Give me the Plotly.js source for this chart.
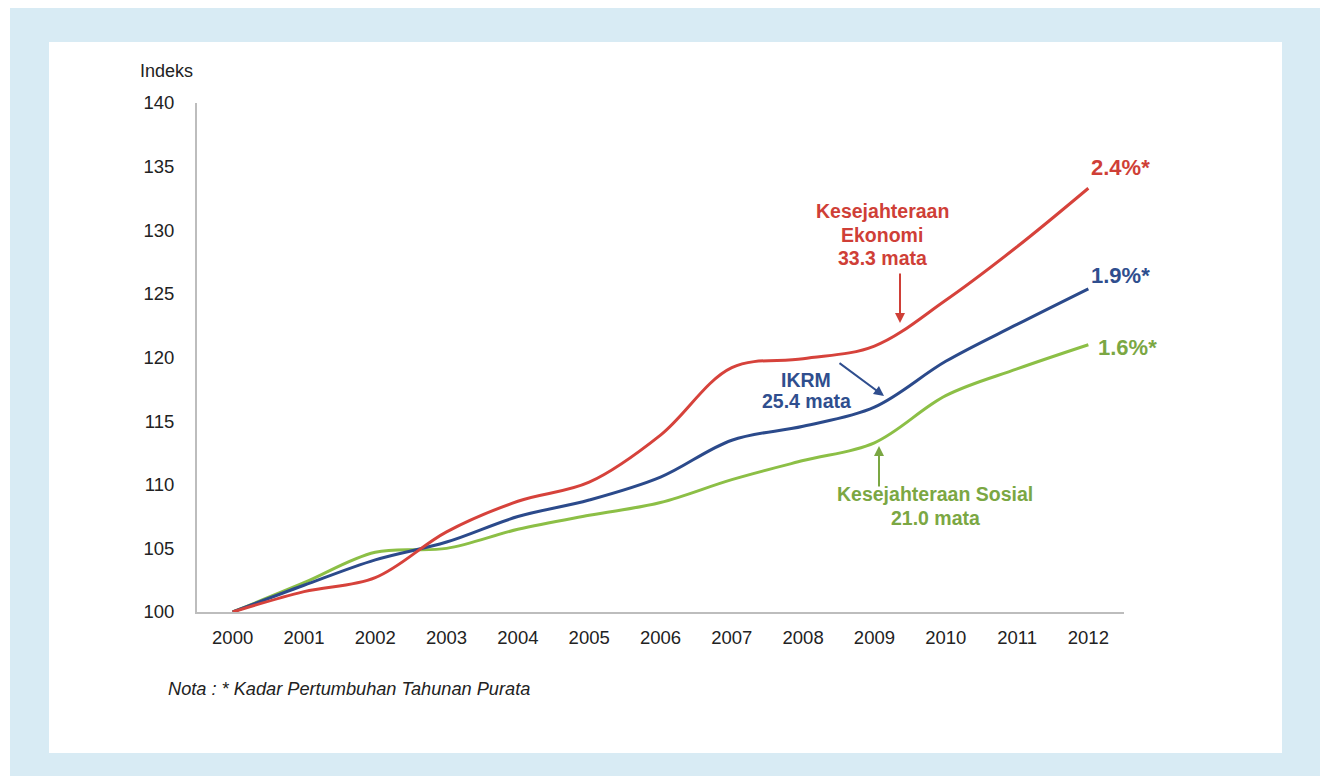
<!DOCTYPE html>
<html>
<head>
<meta charset="utf-8">
<script src="https://cdn.plot.ly/plotly-3.0.1.min.js"></script>
<style>
html,body{margin:0;padding:0;background:#fff;}
#wrap{position:relative;width:1323px;height:776px;overflow:hidden;}
#bgblue{position:absolute;left:10px;top:8px;width:1310px;height:768px;background:#d8ebf4;}
#bgwhite{position:absolute;left:49px;top:42px;width:1233px;height:711px;background:#fff;}
#chart{position:absolute;left:0;top:0;width:1323px;height:776px;}
</style>
</head>
<body>
<div id="wrap"><div id="bgblue"></div><div id="bgwhite"></div><div id="chart"></div></div>
<script>
const years = ['2000','2001','2002','2003','2004','2005','2006','2007','2008','2009','2010','2011','2012'];
const ekonomi = [100, 101.6, 102.7, 106.3, 108.7, 110.2, 113.9, 119.2, 119.9, 120.9, 124.5, 128.7, 133.3];
const ikrm    = [100, 102.1, 104.1, 105.5, 107.5, 108.8, 110.6, 113.5, 114.6, 116.1, 119.7, 122.6, 125.4];
const sosial  = [100, 102.3, 104.7, 105.0, 106.5, 107.6, 108.6, 110.4, 111.9, 113.3, 117.0, 119.1, 121.0];
const yTicks = [100,105,110,115,120,125,130,135,140];

const RED = '#d6423b', BLUE = '#2b4a8b', GREEN = '#8cbf46';
const RED_T = '#cf3f37', BLUE_T = '#2f4e8e', GREEN_T = '#7ba743';
const FONT = 'Liberation Sans, Arial, sans-serif';

// plot area in pixels
const L = 197, R = 1124, T = 103, B = 612;
const px = x => (x - L) / (R - L);
const py = y => (B - y) / (B - T);

function line(y, c, name){
  return {x: years, y: y, type:'scatter', mode:'lines', name:name,
    line:{color:c, width:3, shape:'spline', smoothing:1}, hoverinfo:'skip'};
}

const data = [line(sosial, GREEN, 'Kesejahteraan Sosial'), line(ikrm, BLUE, 'IKRM'), line(ekonomi, RED, 'Kesejahteraan Ekonomi')];

function txt(x, y, t, c, size, anchor){
  return {xref:'paper', yref:'paper', x:px(x), y:py(y), text:t, showarrow:false,
    font:{family:FONT, size:size, color:c}, xanchor:anchor||'center', yanchor:'middle', align:'center'};
}
function arrow(hx, hy, tx, ty, c){
  return {xref:'paper', yref:'paper', x:px(hx), y:py(hy), ax:tx-hx, ay:ty-hy, axref:'pixel', ayref:'pixel',
    text:'', showarrow:true, arrowhead:2, arrowsize:1, arrowwidth:2, arrowcolor:c};
}

const annotations = [
  txt(166, 71, 'Indeks', '#222', 18),
  txt(882, 211, '<b>Kesejahteraan</b>', RED_T, 19.5),
  txt(882, 235, '<b>Ekonomi</b>', RED_T, 19.5),
  txt(882, 258, '<b>33.3 mata</b>', RED_T, 19.5),
  arrow(900, 323, 900, 272, RED_T),
  txt(806, 380, '<b>IKRM</b>', BLUE_T, 19.5),
  txt(806, 401, '<b>25.4 mata</b>', BLUE_T, 19.5),
  arrow(884, 396, 838, 362, BLUE_T),
  arrow(879, 446, 879, 488, GREEN_T),
  txt(935, 494, '<b>Kesejahteraan Sosial</b>', GREEN_T, 19.5),
  txt(935, 518, '<b>21.0 mata</b>', GREEN_T, 19.5),
  txt(1089, 167, '<b>2.4%*</b>', RED_T, 22, 'left'),
  txt(1089, 275, '<b>1.9%*</b>', BLUE_T, 22, 'left'),
  txt(1096, 347, '<b>1.6%*</b>', GREEN_T, 22, 'left'),
  txt(166, 689, '<i>Nota : * Kadar Pertumbuhan Tahunan Purata</i>', '#222', 18.2, 'left')
];

const layout = {
  width:1323, height:776,
  margin:{l:L, r:1323-R, t:T, b:776-B, pad:0},
  paper_bgcolor:'rgba(0,0,0,0)', plot_bgcolor:'rgba(0,0,0,0)',
  showlegend:false,
  font:{family:FONT, color:'#222'},
  xaxis:{type:'category', range:[-0.5,12.5], showgrid:false, zeroline:false,
    showline:true, linecolor:'#bdbdbd', linewidth:2, ticks:'',
    tickfont:{family:FONT, size:18.5, color:'#222'}, ticklabelstandoff:8, fixedrange:true},
  yaxis:{range:[100,140], tickvals:yTicks, ticktext:yTicks.map(String), showgrid:false, zeroline:false,
    showline:true, linecolor:'#bdbdbd', linewidth:2, ticks:'',
    tickfont:{family:FONT, size:18.5, color:'#222'}, ticklabelstandoff:17, fixedrange:true},
  annotations: annotations
};

Plotly.newPlot('chart', data, layout, {displayModeBar:false, staticPlot:true});
</script>
</body>
</html>
